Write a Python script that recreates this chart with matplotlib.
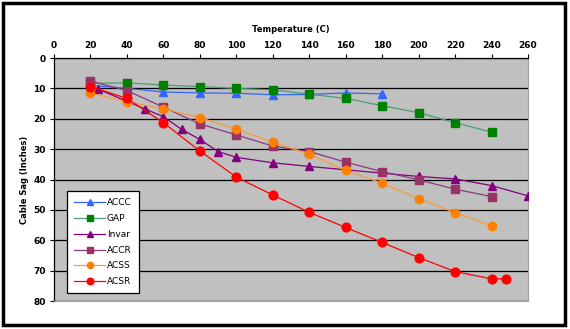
import matplotlib.pyplot as plt
from matplotlib.patches import Rectangle

# Cable sag (inches) against conductor temperature (C)
accc_t = [20, 40, 60, 80, 100, 120, 140, 160, 180]
accc_sag = [9, 10, 11.2, 11.5, 11.6, 12.1, 12, 11.5, 11.8]

gap_t = [20, 40, 60, 80, 100, 120, 140, 160, 180, 200, 220, 240]
gap_sag = [8.3, 8.2, 8.9, 9.4, 10, 10.5, 11.9, 13.3, 15.7, 18, 21.3, 24.4]

invar_t = [24, 50, 60, 70, 80, 90, 100, 120, 140, 200, 220, 240, 260]
invar_sag = [10.2, 16.8, 19.3, 23.5, 26.8, 30.8, 32.7, 34.5, 35.7, 39, 39.8, 42, 45.4]

accr_t = [20, 40, 60, 80, 100, 120, 140, 160, 180, 200, 220, 240]
accr_sag = [7.6, 10.7, 16.2, 21.7, 25.3, 29, 30.8, 34.3, 37.4, 40.1, 43.2, 45.6]

acss_t = [20, 40, 60, 80, 100, 120, 140, 160, 180, 200, 220, 240]
acss_sag = [11.6, 14.4, 16.7, 19.6, 23.4, 27.7, 31.7, 37, 41.2, 46.4, 50.9, 55.3]

acsr_t = [20, 40, 60, 80, 100, 120, 140, 160, 180, 200, 220, 240, 248]
acsr_sag = [9.4, 13.3, 21.3, 30.6, 39.2, 45.1, 50.8, 55.8, 60.7, 65.7, 70.3, 72.7, 72.7]

fig = plt.figure(figsize=(5.7, 3.29), dpi=100)
ax = fig.add_axes([0.0947, 0.0851, 0.8316, 0.7386])
ax.set_facecolor("#C0C0C0")

# outer frame around the whole chart
fig.patches.append(Rectangle((0.006, 0.012), 0.986, 0.978, transform=fig.transFigure,
                             fill=False, edgecolor="black", linewidth=2.5))

ax.plot(accc_t, accc_sag, color="#3366FF", marker="^", markersize=5.5, lw=0.9,
        label="ACCC", zorder=3)
ax.plot(gap_t, gap_sag, color="#4C9C74", marker="s", markersize=5.8,
        markerfacecolor="#008000", markeredgecolor="#008000", lw=0.9, label="GAP", zorder=3)
ax.plot(invar_t, invar_sag, color="#800080", marker="^", markersize=5.8, lw=0.9,
        label="Invar", zorder=3)
ax.plot(accr_t, accr_sag, color="#883A80", marker="s", markersize=5.8,
        markerfacecolor="#993366", markeredgecolor="#993366", lw=0.9, label="ACCR", zorder=3)
ax.plot(acss_t, acss_sag, color="#FF9933", marker="o", markersize=6,
        markerfacecolor="#FF8000", markeredgecolor="#FF8000", lw=0.9, label="ACSS", zorder=3)
ax.plot(acsr_t, acsr_sag, color="#FF0000", marker="o", markersize=6.3, lw=0.9,
        label="ACSR", zorder=3)

ax.set_xlim(0, 260)
ax.set_ylim(80, 0)
ax.set_xticks(range(0, 261, 20))
ax.set_yticks(range(0, 81, 10))
ax.xaxis.tick_top()
ax.xaxis.set_label_position("top")
ax.tick_params(axis="both", labelsize=6.5, length=3, width=0.8, pad=3)
for lab in ax.get_xticklabels() + ax.get_yticklabels():
    lab.set_fontweight("bold")

ax.grid(axis="y", color="black", lw=0.9)
ax.set_axisbelow(True)
ax.spines["right"].set_color("#A0A0A0")
ax.spines["bottom"].set_color("#A0A0A0")
ax.spines["left"].set_linewidth(0.9)
ax.spines["top"].set_linewidth(0.9)

ax.set_xlabel("Temperature (C)", fontsize=6, fontweight="bold", labelpad=6)
ax.set_ylabel("Cable Sag (Inches)", fontsize=6, fontweight="bold", labelpad=3)

leg = ax.legend(loc="lower left", bbox_to_anchor=(0.022, 0.02), fontsize=6.5,
                frameon=True, fancybox=False, edgecolor="black", framealpha=1,
                handlelength=3.4, labelspacing=0.75, borderpad=0.8, handletextpad=0.2,
                borderaxespad=0.3, markerscale=0.75)
leg.get_frame().set_linewidth(0.9)

fig.savefig("out.png", dpi=100, facecolor="white")
